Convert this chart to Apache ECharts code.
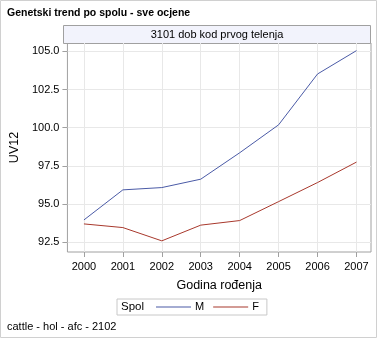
<!DOCTYPE html>
<html><head><meta charset="utf-8">
<script src="https://cdn.jsdelivr.net/npm/echarts@6/dist/echarts.min.js"></script>
<style>html,body{margin:0;padding:0;background:#fff}#c{width:378px;height:340px}</style>
</head><body><div id="c"></div>
<script>
var years = [2000, 2001, 2002, 2003, 2004, 2005, 2006, 2007];
var maleValues = [93.96, 95.93, 96.08, 96.63, 98.36, 100.19, 103.52, 105.05];
var femaleValues = [93.70, 93.46, 92.59, 93.62, 93.92, 95.16, 96.41, 97.75];
var yTicks = [92.5, 95.0, 97.5, 100.0, 102.5, 105.0];
var titleText = 'Genetski trend po spolu - sve ocjene';
var panelText = '3101 dob kod prvog telenja';
var footText = 'cattle - hol - afc - 2102';
var legendTitle = 'Spol';
var seriesNames = ['M', 'F'];

var FONT = '"Liberation Sans", Arial, sans-serif';
var chart = echarts.init(document.getElementById('c'), null, {renderer: 'canvas'});
function pairs(vals) { return years.map(function (y, i) { return [y, vals[i]]; }); }
chart.setOption({
  animation: false,
  textStyle: {fontFamily: FONT},
  grid: {left: 63, right: 7, top: 43, bottom: 88, show: true, borderColor: '#a0a0a0', borderWidth: 1, backgroundColor: 'transparent'},
  xAxis: {
    type: 'value', min: 1999.576, max: 2007.373,
    name: 'Godina rođenja', nameLocation: 'middle', nameGap: 27,
    nameTextStyle: {color: '#000', fontSize: 12.5, fontFamily: FONT},
    axisLine: {show: false},
    axisTick: {show: true, customValues: years, length: 5, lineStyle: {color: '#a0a0a0'}},
    axisLabel: {customValues: years, color: '#000', fontSize: 11, margin: 9, fontFamily: FONT,
      formatter: function (v) { return String(Math.round(v)); }},
    splitLine: {show: true, lineStyle: {color: '#e8e8e8', width: 1}}
  },
  yAxis: {
    type: 'value', min: 91.86, max: 105.55,
    name: 'UV12', nameLocation: 'middle', nameGap: 46, nameRotate: 90,
    nameTextStyle: {color: '#000', fontSize: 12.5, fontFamily: FONT},
    axisLine: {show: false},
    axisTick: {show: true, customValues: yTicks, length: 5, lineStyle: {color: '#a0a0a0'}},
    axisLabel: {customValues: yTicks, color: '#000', fontSize: 11, margin: 8, fontFamily: FONT,
      formatter: function (v) { return Number(v).toFixed(1); }},
    splitLine: {show: true, lineStyle: {color: '#e8e8e8', width: 1}}
  },
  legend: {
    left: 117, top: 299, orient: 'horizontal',
    padding: [2, 8, 2, 39], itemGap: 9, itemWidth: 35, itemHeight: 1.2, icon: 'rect',
    borderColor: '#c8c8c8', borderWidth: 1,
    textStyle: {color: '#000', fontSize: 11, fontFamily: FONT, lineHeight: 11, padding: [1, 0, 0, -1]},
    data: seriesNames
  },
  graphic: [
    {type: 'rect', silent: true, shape: {x: 0.5, y: 0.5, width: 376, height: 337}, style: {fill: 'none', stroke: '#d0d0d0', lineWidth: 1}, z: -10},
    {type: 'text', x: 7, y: 13, style: {text: titleText, font: 'bold 10.5px ' + FONT, fill: '#000', verticalAlign: 'middle'}},
    {type: 'rect', silent: true, shape: {x: 63.5, y: 25.5, width: 307, height: 18}, style: {fill: '#f2f3fc', stroke: '#a0a0a0', lineWidth: 1}},
    {type: 'text', x: 217, y: 34.5, style: {text: panelText, font: '11px ' + FONT, fill: '#000', align: 'center', verticalAlign: 'middle'}},
    {type: 'text', x: 121, y: 306.5, style: {text: legendTitle, font: '11.5px ' + FONT, fill: '#000', verticalAlign: 'middle'}},
    {type: 'text', left: 7, top: 321, style: {text: footText, font: '11px ' + FONT, fill: '#000'}}
  ],
  series: [
    {name: seriesNames[0], type: 'line', data: pairs(maleValues), symbol: 'none', lineStyle: {color: '#4a5aa6', width: 1}, itemStyle: {color: '#4a5aa6'}},
    {name: seriesNames[1], type: 'line', data: pairs(femaleValues), symbol: 'none', lineStyle: {color: '#a8382c', width: 1}, itemStyle: {color: '#a8382c'}}
  ]
});
</script></body></html>
